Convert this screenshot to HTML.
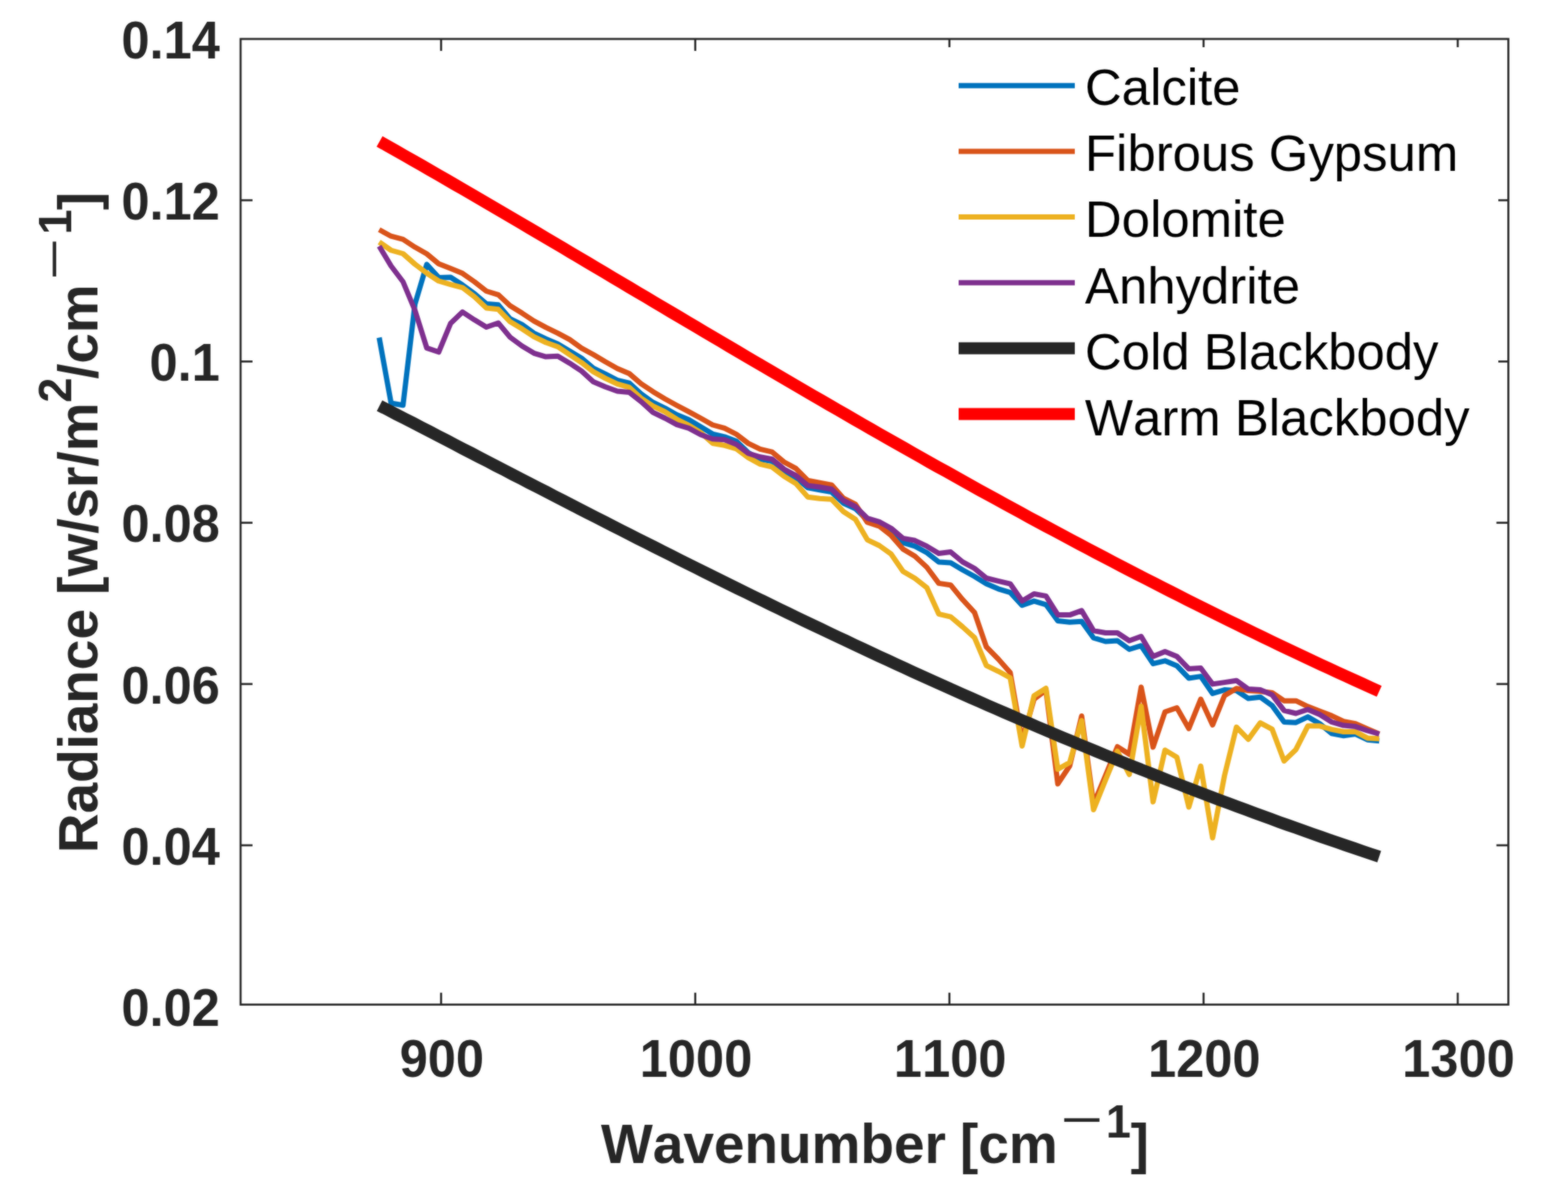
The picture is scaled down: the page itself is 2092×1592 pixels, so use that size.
<!DOCTYPE html>
<html lang="en"><head><meta charset="utf-8"><title>Radiance spectra</title>
<style>html,body{margin:0;padding:0;background:#fff;}svg{display:block;}text{font-family:"Liberation Sans",Arial,Helvetica,sans-serif;font-kerning:none;}.b{font-weight:bold;fill:#262626}.l{fill:#000}</style></head><body>
<svg xmlns="http://www.w3.org/2000/svg" width="2092" height="1592" viewBox="0 0 2092 1592">
<rect x="0" y="0" width="2092" height="1592" fill="#fff"/>
<defs><filter id="soft" x="0" y="0" width="100%" height="100%" filterUnits="userSpaceOnUse" color-interpolation-filters="sRGB"><feGaussianBlur in="SourceGraphic" stdDeviation="0.8" result="b"/><feComposite in="SourceGraphic" in2="b" operator="arithmetic" k1="0" k2="0.45" k3="0.55" k4="0"/></filter></defs><g filter="url(#soft)"><rect x="0" y="0" width="2092" height="1592" fill="#fff"/>
<polyline points="505.9,450.5 521.8,538.0 537.7,540.7 553.6,406.0 569.4,352.8 585.3,370.4 601.2,370.0 617.1,380.3 633.0,391.8 648.9,405.5 664.8,406.8 680.6,425.4 696.5,433.1 712.4,444.6 728.3,452.2 744.2,458.9 760.1,468.5 775.9,478.0 791.8,491.4 807.7,499.1 823.6,507.3 839.5,511.2 855.4,525.5 871.3,537.0 887.1,544.6 903.0,553.5 918.9,559.9 934.8,569.5 950.7,579.1 966.6,582.9 982.5,588.7 998.3,604.0 1014.2,612.7 1030.1,615.5 1046.0,628.9 1061.9,637.5 1077.8,650.9 1093.6,653.8 1109.5,656.6 1125.4,671.5 1141.3,678.8 1157.2,694.0 1173.1,699.0 1189.0,709.0 1204.8,724.1 1220.7,728.9 1236.6,737.5 1252.5,749.9 1268.4,750.9 1284.3,760.5 1300.2,769.3 1316.0,779.1 1331.9,785.8 1347.8,790.6 1363.7,807.8 1379.6,802.1 1395.5,806.8 1411.3,828.5 1427.2,830.2 1443.1,829.2 1459.0,851.2 1474.9,856.0 1490.8,855.0 1506.7,866.5 1522.5,861.7 1538.4,885.6 1554.3,881.8 1570.2,888.5 1586.1,905.0 1602.0,902.6 1617.8,925.4 1633.7,920.6 1649.6,921.5 1665.5,932.1 1681.4,930.2 1697.3,941.6 1713.2,963.5 1729.0,964.2 1744.9,956.6 1760.8,965.8 1776.7,978.8 1792.6,981.8 1808.5,979.5 1824.4,987.2 1840.2,988.7" fill="none" stroke="#0072BD" stroke-width="7.0" stroke-linejoin="round" stroke-linecap="butt" />
<polyline points="505.9,306.5 521.8,315.2 537.7,319.3 553.6,329.8 569.4,338.8 585.3,352.0 601.2,358.2 617.1,364.8 633.0,376.0 648.9,388.5 664.8,393.3 680.6,408.0 696.5,417.8 712.4,428.3 728.3,436.9 744.2,444.6 760.1,453.2 775.9,464.6 791.8,473.3 807.7,482.8 823.6,491.8 839.5,498.5 855.4,512.1 871.3,522.7 887.1,532.2 903.0,541.0 918.9,549.4 934.8,558.0 950.7,567.0 966.6,571.4 982.5,579.5 998.3,591.6 1014.2,599.3 1030.1,603.1 1046.0,616.5 1061.9,625.1 1077.8,641.3 1093.6,644.2 1109.5,647.1 1125.4,665.0 1141.3,673.0 1157.2,697.0 1173.1,702.1 1189.0,714.6 1204.8,732.7 1220.7,742.3 1236.6,757.0 1252.5,778.4 1268.4,780.8 1284.3,800.2 1300.2,817.4 1316.0,863.3 1331.9,879.5 1347.8,897.5 1363.7,988.0 1379.6,933.0 1395.5,921.0 1411.3,1046.0 1427.2,1022.0 1443.1,955.5 1459.0,1073.0 1474.9,1035.0 1490.8,996.5 1506.7,1006.5 1522.5,917.0 1538.4,997.0 1554.3,950.0 1570.2,944.5 1586.1,972.2 1602.0,933.0 1617.8,967.4 1633.7,928.2 1649.6,918.7 1665.5,921.5 1681.4,922.5 1697.3,924.4 1713.2,935.2 1729.0,935.2 1744.9,942.8 1760.8,948.9 1776.7,955.1 1792.6,962.7 1808.5,965.8 1824.4,972.7 1840.2,979.5" fill="none" stroke="#D95319" stroke-width="7.0" stroke-linejoin="round" stroke-linecap="butt" />
<polyline points="505.9,323.0 521.8,334.0 537.7,338.5 553.6,352.5 569.4,364.5 585.3,375.0 601.2,379.6 617.1,383.8 633.0,396.0 648.9,411.0 664.8,412.8 680.6,429.3 696.5,438.8 712.4,449.4 728.3,457.0 744.2,462.7 760.1,473.3 775.9,483.8 791.8,496.2 807.7,504.8 823.6,512.3 839.5,516.9 855.4,531.3 871.3,541.8 887.1,549.4 903.0,559.5 918.9,567.6 934.8,577.2 950.7,591.5 966.6,594.4 982.5,599.0 998.3,610.7 1014.2,619.3 1030.1,623.2 1046.0,635.6 1061.9,645.2 1077.8,663.3 1093.6,665.2 1109.5,666.2 1125.4,682.7 1141.3,693.0 1157.2,720.3 1173.1,728.0 1189.0,739.4 1204.8,762.4 1220.7,771.7 1236.6,784.2 1252.5,819.3 1268.4,823.1 1284.3,836.5 1300.2,850.8 1316.0,888.1 1331.9,895.8 1347.8,904.5 1363.7,995.5 1379.6,928.5 1395.5,918.5 1411.3,1026.5 1427.2,1017.5 1443.1,961.5 1459.0,1080.5 1474.9,1041.0 1490.8,1002.5 1506.7,1033.5 1522.5,942.5 1538.4,1070.0 1554.3,1001.0 1570.2,1010.5 1586.1,1077.0 1602.0,1022.3 1617.8,1118.0 1633.7,1035.0 1649.6,970.3 1665.5,986.6 1681.4,964.6 1697.3,973.2 1713.2,1015.5 1729.0,1000.2 1744.9,968.8 1760.8,968.8 1776.7,973.4 1792.6,976.5 1808.5,976.5 1824.4,984.9 1840.2,985.7" fill="none" stroke="#EDB120" stroke-width="7.0" stroke-linejoin="round" stroke-linecap="butt" />
<polyline points="505.9,328.5 521.8,355.0 537.7,376.0 553.6,414.0 569.4,464.4 585.3,469.8 601.2,431.5 617.1,416.3 633.0,426.8 648.9,436.5 664.8,431.0 680.6,450.0 696.5,461.8 712.4,471.3 728.3,476.1 744.2,475.2 760.1,484.7 775.9,495.2 791.8,509.6 807.7,516.3 823.6,522.0 839.5,523.6 855.4,536.0 871.3,550.4 887.1,558.0 903.0,566.6 918.9,571.4 934.8,580.0 950.7,585.8 966.6,586.7 982.5,593.0 998.3,605.0 1014.2,609.8 1030.1,612.7 1046.0,626.0 1061.9,634.6 1077.8,648.0 1093.6,650.0 1109.5,652.8 1125.4,668.0 1141.3,676.0 1157.2,691.5 1173.1,696.4 1189.0,705.0 1204.8,718.4 1220.7,721.3 1236.6,728.9 1252.5,738.5 1268.4,736.6 1284.3,749.9 1300.2,758.5 1316.0,771.5 1331.9,775.3 1347.8,779.1 1363.7,802.1 1379.6,792.5 1395.5,795.4 1411.3,820.4 1427.2,820.6 1443.1,814.9 1459.0,841.6 1474.9,844.5 1490.8,844.5 1506.7,855.0 1522.5,849.3 1538.4,876.0 1554.3,869.4 1570.2,876.0 1586.1,892.5 1602.0,891.5 1617.8,912.9 1633.7,910.6 1649.6,908.2 1665.5,919.6 1681.4,920.6 1697.3,927.3 1713.2,948.2 1729.0,952.0 1744.9,946.7 1760.8,953.5 1776.7,963.5 1792.6,968.1 1808.5,969.6 1824.4,975.0 1840.2,979.5" fill="none" stroke="#7E2F8E" stroke-width="7.0" stroke-linejoin="round" stroke-linecap="butt" />
<polyline points="506.4,541.3 517.5,547.0 528.6,552.8 539.7,558.5 550.9,564.2 562.0,570.0 573.1,575.7 584.2,581.5 595.3,587.2 606.4,593.0 617.5,598.8 628.7,604.5 639.8,610.3 650.9,616.0 662.0,621.8 673.1,627.5 684.2,633.3 695.3,639.0 706.5,644.8 717.6,650.5 728.7,656.2 739.8,662.0 750.9,667.7 762.0,673.4 773.1,679.1 784.3,684.8 795.4,690.5 806.5,696.2 817.6,701.8 828.7,707.5 839.8,713.1 850.9,718.8 862.1,724.4 873.2,730.0 884.3,735.6 895.4,741.2 906.5,746.8 917.6,752.4 928.7,757.9 939.9,763.5 951.0,769.0 962.1,774.5 973.2,780.0 984.3,785.5 995.4,790.9 1006.5,796.4 1017.7,801.8 1028.8,807.2 1039.9,812.6 1051.0,818.0 1062.1,823.4 1073.2,828.7 1084.3,834.0 1095.5,839.3 1106.6,844.6 1117.7,849.9 1128.8,855.1 1139.9,860.4 1151.0,865.6 1162.1,870.8 1173.2,875.9 1184.4,881.1 1195.5,886.2 1206.6,891.3 1217.7,896.4 1228.8,901.5 1239.9,906.5 1251.0,911.5 1262.2,916.5 1273.3,921.5 1284.4,926.5 1295.5,931.4 1306.6,936.3 1317.7,941.2 1328.8,946.0 1340.0,950.9 1351.1,955.7 1362.2,960.5 1373.3,965.2 1384.4,970.0 1395.5,974.7 1406.6,979.4 1417.8,984.1 1428.9,988.7 1440.0,993.3 1451.1,997.9 1462.2,1002.5 1473.3,1007.1 1484.4,1011.6 1495.6,1016.1 1506.7,1020.6 1517.8,1025.0 1528.9,1029.4 1540.0,1033.8 1551.1,1038.2 1562.2,1042.6 1573.4,1046.9 1584.5,1051.2 1595.6,1055.5 1606.7,1059.7 1617.8,1064.0 1628.9,1068.2 1640.0,1072.3 1651.2,1076.5 1662.3,1080.6 1673.4,1084.7 1684.5,1088.8 1695.6,1092.8 1706.7,1096.9 1717.8,1100.9 1729.0,1104.8 1740.1,1108.8 1751.2,1112.7 1762.3,1116.6 1773.4,1120.5 1784.5,1124.3 1795.6,1128.1 1806.8,1131.9 1817.9,1135.7 1829.0,1139.5 1840.1,1143.2" fill="none" stroke="#262626" stroke-width="16.0" stroke-linejoin="round" stroke-linecap="butt" id="cold"/>
<polyline points="506.4,188.7 517.5,195.0 528.6,201.3 539.7,207.6 550.9,214.0 562.0,220.3 573.1,226.7 584.2,233.1 595.3,239.5 606.4,246.0 617.5,252.4 628.7,258.9 639.8,265.4 650.9,271.9 662.0,278.4 673.1,284.9 684.2,291.4 695.3,297.9 706.5,304.5 717.6,311.0 728.7,317.6 739.8,324.2 750.9,330.7 762.0,337.3 773.1,343.9 784.3,350.5 795.4,357.1 806.5,363.7 817.6,370.3 828.7,376.9 839.8,383.5 850.9,390.1 862.1,396.7 873.2,403.3 884.3,409.9 895.4,416.5 906.5,423.0 917.6,429.6 928.7,436.2 939.9,442.8 951.0,449.4 962.1,455.9 973.2,462.5 984.3,469.0 995.4,475.6 1006.5,482.1 1017.7,488.6 1028.8,495.2 1039.9,501.7 1051.0,508.2 1062.1,514.6 1073.2,521.1 1084.3,527.6 1095.5,534.0 1106.6,540.5 1117.7,546.9 1128.8,553.3 1139.9,559.7 1151.0,566.1 1162.1,572.5 1173.2,578.9 1184.4,585.2 1195.5,591.5 1206.6,597.8 1217.7,604.1 1228.8,610.4 1239.9,616.7 1251.0,622.9 1262.2,629.1 1273.3,635.3 1284.4,641.5 1295.5,647.7 1306.6,653.9 1317.7,660.0 1328.8,666.1 1340.0,672.2 1351.1,678.3 1362.2,684.3 1373.3,690.4 1384.4,696.4 1395.5,702.4 1406.6,708.3 1417.8,714.3 1428.9,720.2 1440.0,726.1 1451.1,732.0 1462.2,737.9 1473.3,743.7 1484.4,749.5 1495.6,755.3 1506.7,761.1 1517.8,766.8 1528.9,772.5 1540.0,778.2 1551.1,783.9 1562.2,789.5 1573.4,795.2 1584.5,800.8 1595.6,806.3 1606.7,811.9 1617.8,817.4 1628.9,822.9 1640.0,828.4 1651.2,833.8 1662.3,839.2 1673.4,844.6 1684.5,850.0 1695.6,855.4 1706.7,860.7 1717.8,866.0 1729.0,871.2 1740.1,876.5 1751.2,881.7 1762.3,886.9 1773.4,892.0 1784.5,897.2 1795.6,902.3 1806.8,907.4 1817.9,912.4 1829.0,917.5 1840.1,922.5" fill="none" stroke="#FF0000" stroke-width="16.0" stroke-linejoin="round" stroke-linecap="butt" id="warm"/>
<g stroke="#262626" stroke-width="2.7" fill="none">
<rect x="321.0" y="52.0" width="1691.4" height="1288.6"/>
<line x1="588.5" y1="1340.6" x2="588.5" y2="1324.7"/>
<line x1="588.5" y1="52.0" x2="588.5" y2="67.9"/>
<line x1="927.6" y1="1340.6" x2="927.6" y2="1324.7"/>
<line x1="927.6" y1="52.0" x2="927.6" y2="67.9"/>
<line x1="1266.7" y1="1340.6" x2="1266.7" y2="1324.7"/>
<line x1="1266.7" y1="52.0" x2="1266.7" y2="67.9"/>
<line x1="1605.8" y1="1340.6" x2="1605.8" y2="1324.7"/>
<line x1="1605.8" y1="52.0" x2="1605.8" y2="67.9"/>
<line x1="1944.9" y1="1340.6" x2="1944.9" y2="1324.7"/>
<line x1="1944.9" y1="52.0" x2="1944.9" y2="67.9"/>
<line x1="321.0" y1="267.2" x2="336.9" y2="267.2"/>
<line x1="2012.4" y1="267.2" x2="1996.5" y2="267.2"/>
<line x1="321.0" y1="482.4" x2="336.9" y2="482.4"/>
<line x1="2012.4" y1="482.4" x2="1996.5" y2="482.4"/>
<line x1="321.0" y1="697.6" x2="336.9" y2="697.6"/>
<line x1="2012.4" y1="697.6" x2="1996.5" y2="697.6"/>
<line x1="321.0" y1="912.8" x2="336.9" y2="912.8"/>
<line x1="2012.4" y1="912.8" x2="1996.5" y2="912.8"/>
<line x1="321.0" y1="1128.0" x2="336.9" y2="1128.0"/>
<line x1="2012.4" y1="1128.0" x2="1996.5" y2="1128.0"/>
</g>
<g class="b" font-size="67.5">
<text transform="translate(589.5,1436.9) scale(1,1.055)" text-anchor="middle">900</text>
<text transform="translate(928.6,1436.9) scale(1,1.055)" text-anchor="middle">1000</text>
<text transform="translate(1267.7,1436.9) scale(1,1.055)" text-anchor="middle">1100</text>
<text transform="translate(1606.8,1436.9) scale(1,1.055)" text-anchor="middle">1200</text>
<text transform="translate(1945.9,1436.9) scale(1,1.055)" text-anchor="middle">1300</text>
<text transform="translate(293.4,77.7) scale(1,1.055)" text-anchor="end">0.14</text>
<text transform="translate(293.4,292.9) scale(1,1.055)" text-anchor="end">0.12</text>
<text transform="translate(293.4,508.1) scale(1,1.055)" text-anchor="end">0.1</text>
<text transform="translate(293.4,723.3) scale(1,1.055)" text-anchor="end">0.08</text>
<text transform="translate(293.4,938.5) scale(1,1.055)" text-anchor="end">0.06</text>
<text transform="translate(293.4,1153.7) scale(1,1.055)" text-anchor="end">0.04</text>
<text transform="translate(293.4,1368.9) scale(1,1.055)" text-anchor="end">0.02</text>
</g>
<g id="xlabel">
<text class="b" transform="translate(801.7,1552.2) scale(1,1.0)" font-size="73.3" style="word-spacing:-1.5px">Wavenumber [cm</text>
<text class="b" style="font-weight:normal" transform="translate(1415.22,1516.30) scale(1.614,1.075)" font-size="60">−</text>
<text class="b" transform="translate(1475.4,1517.6) scale(1,1.05)" font-size="60" >1</text>
<text class="b" transform="translate(1508.5,1552.2) scale(1,1.0)" font-size="73.3" >]</text>
</g>
<g id="ylabel" transform="translate(129.5,1138.5) rotate(-90)">
<text class="b" transform="translate(0.0,0.0) scale(1,1.0)" font-size="73.3" style="word-spacing:-1.5px">Radiance [w/sr/m</text>
<text class="b" transform="translate(601.2,-34.6) scale(1,1.05)" font-size="60" >2</text>
<text class="b" transform="translate(632.8,0.0) scale(1,1.0)" font-size="73.3" >/cm</text>
<text class="b" style="font-weight:normal" transform="translate(765.08,-35.50) scale(1.596,1.075)" font-size="60">−</text>
<text class="b" transform="translate(825.5,-34.6) scale(1,1.05)" font-size="60" >1</text>
<text class="b" transform="translate(858.1,0.0) scale(1,1.0)" font-size="73.3" >]</text>
</g>
<g id="legend">
<rect x="1260" y="63" width="739" height="542" fill="#fff"/>
<line x1="1279" y1="114.2" x2="1434" y2="114.2" stroke="#0072BD" stroke-width="7.0"/>
<text x="1447.6" y="140.0" font-size="67.9" class="l">Calcite</text>
<line x1="1279" y1="201.9" x2="1434" y2="201.9" stroke="#D95319" stroke-width="7.0"/>
<text x="1447.6" y="228.2" font-size="67.9" class="l">Fibrous Gypsum</text>
<line x1="1279" y1="289.5" x2="1434" y2="289.5" stroke="#EDB120" stroke-width="7.0"/>
<text x="1447.6" y="316.3" font-size="67.9" class="l">Dolomite</text>
<line x1="1279" y1="377.2" x2="1434" y2="377.2" stroke="#7E2F8E" stroke-width="7.0"/>
<text x="1447.6" y="404.5" font-size="67.9" class="l">Anhydrite</text>
<line x1="1279" y1="464.8" x2="1434" y2="464.8" stroke="#262626" stroke-width="16.0"/>
<text x="1447.6" y="492.6" font-size="67.9" class="l">Cold Blackbody</text>
<line x1="1279" y1="552.5" x2="1434" y2="552.5" stroke="#FF0000" stroke-width="16.0"/>
<text x="1447.6" y="580.8" font-size="67.9" class="l">Warm Blackbody</text>
</g>
</g></svg></body></html>
